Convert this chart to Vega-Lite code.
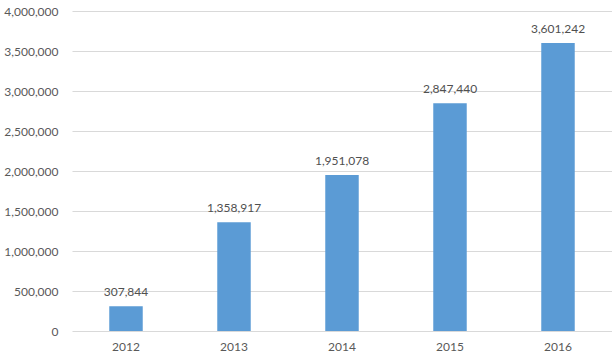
{
  "$schema": "https://vega.github.io/schema/vega-lite/v6.json",
  "width": 540,
  "height": 320,
  "autosize": {"type": "none"},
  "padding": {"left": 72, "top": 11, "right": 0, "bottom": 31},
  "background": "white",
  "config": {"view": {"stroke": null}, "font": "Lato"},
  "data": {"values": [
    {"year": "2012", "value": 307844},
    {"year": "2013", "value": 1358917},
    {"year": "2014", "value": 1951078},
    {"year": "2015", "value": 2847440},
    {"year": "2016", "value": 3601242}
  ]},
  "encoding": {
    "x": {"field": "year", "type": "nominal", "scale": {"paddingInner": 0.69, "paddingOuter": 0.345},
      "axis": {"title": null, "labelAngle": 0, "domain": false, "ticks": false, "labelColor": "#595959", "labelFontSize": 12, "labelPadding": 10, "labelFont": "Lato"}},
    "y": {"field": "value", "type": "quantitative", "scale": {"domain": [0, 4000000]},
      "axis": {"title": null, "tickCount": 8, "format": ",.0f", "formatType": "number", "domain": false, "ticks": false, "gridColor": "#d9d9d9", "labelColor": "#595959", "labelFontSize": 12, "labelPadding": 14, "labelFont": "Lato"}}
  },
  "layer": [
    {"mark": {"type": "bar", "color": "#5b9bd5"}},
    {"mark": {"type": "text", "dy": -14, "baseline": "middle", "color": "#505050", "fontSize": 12, "font": "Lato"},
      "encoding": {"text": {"field": "value", "type": "quantitative", "format": ","}}}
  ]
}
